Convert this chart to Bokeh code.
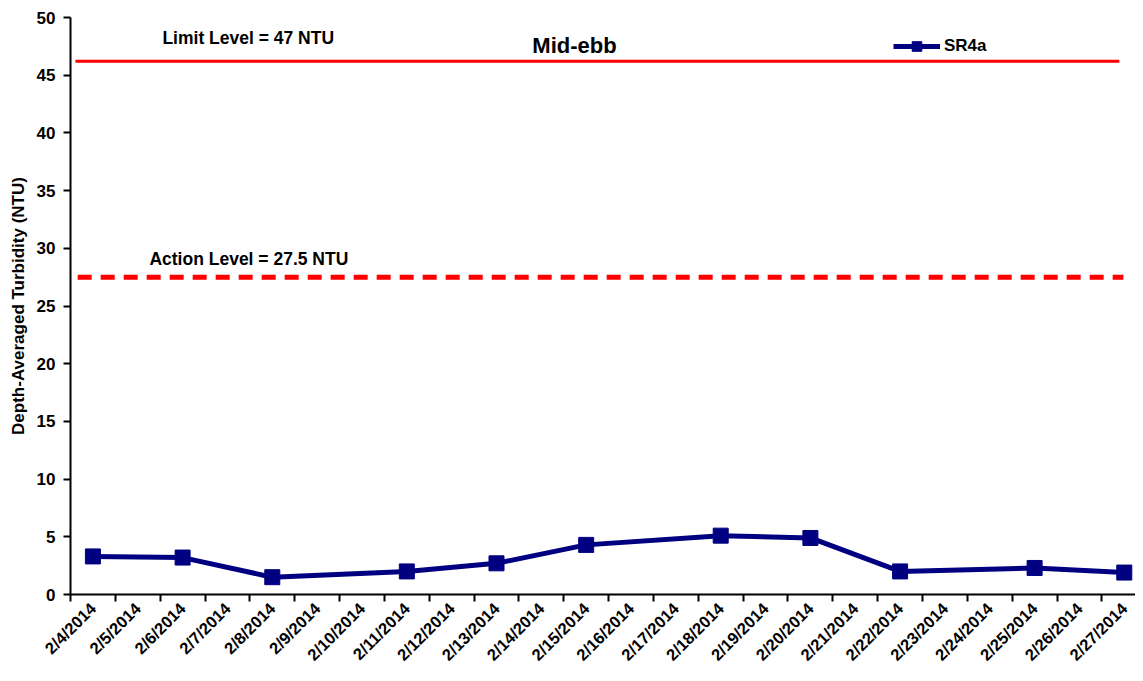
import math
from bokeh.plotting import figure
from bokeh.models import Range1d, FixedTicker, Label, Legend, LegendItem
from bokeh.embed import file_html
from bokeh.resources import INLINE

# ---- data ----
dates = ["2/4/2014", "2/5/2014", "2/6/2014", "2/7/2014", "2/8/2014", "2/9/2014",
         "2/10/2014", "2/11/2014", "2/12/2014", "2/13/2014", "2/14/2014", "2/15/2014",
         "2/16/2014", "2/17/2014", "2/18/2014", "2/19/2014", "2/20/2014", "2/21/2014",
         "2/22/2014", "2/23/2014", "2/24/2014", "2/25/2014", "2/26/2014", "2/27/2014"]
sample_dates = ["2/4/2014", "2/6/2014", "2/8/2014", "2/11/2014", "2/13/2014", "2/15/2014",
                "2/18/2014", "2/20/2014", "2/22/2014", "2/25/2014", "2/27/2014"]
sr4a = [3.3, 3.2, 1.5, 2.0, 2.7, 4.3, 5.1, 4.9, 2.0, 2.3, 1.9]
limit_level = 46.2
action_level = 27.5
limit_text = "Limit Level  = 47 NTU"
action_text = "Action Level  = 27.5 NTU"
title_text = "Mid-ebb"
y_ticks = [0, 5, 10, 15, 20, 25, 30, 35, 40, 45, 50]

FONT = "Liberation Sans"

centers = [i + 0.5 for i in range(len(dates))]
bounds = list(range(len(dates) + 1))
xs = [dates.index(d) + 0.5 for d in sample_dates]

p = figure(width=1135, height=673, output_backend="svg", toolbar_location=None,
           x_range=Range1d(0, 23.75), y_range=Range1d(0, 50),
           min_border_left=70, min_border_right=0, min_border_top=17, min_border_bottom=79)
p.outline_line_color = None
p.xgrid.visible = False
p.ygrid.visible = False
p.background_fill_color = "white"

# level lines
p.segment(x0=[0.11], y0=[limit_level], x1=[23.39], y1=[limit_level],
          line_color="#ff0000", line_width=3)
p.segment(x0=[0.16], y0=[action_level], x1=[23.48], y1=[action_level],
          line_color="#ff0000", line_width=5, line_dash="14 9")

# series
r_line = p.line(xs, sr4a, line_color="#000080", line_width=5)
r_mark = p.scatter(xs, sr4a, marker="square", size=15, fill_color="#000080",
                   line_color="#000080")

legend = Legend(items=[LegendItem(label="SR4a", renderers=[r_line, r_mark])],
                location=(823, 536), glyph_width=47, glyph_height=24,
                label_standoff=4, padding=2, spacing=0, margin=0,
                background_fill_alpha=0, border_line_color=None,
                label_text_font=FONT, label_text_font_style="bold",
                label_text_font_size="17px", label_text_color="black")
p.add_layout(legend, "center")

# annotations
p.add_layout(Label(x=2.05, y=48.2, text=limit_text, text_baseline="middle",
                   text_color="black",
                   text_font=FONT, text_font_style="bold", text_font_size="17.5px"))
p.add_layout(Label(x=1.76, y=29.1, text=action_text, text_baseline="middle",
                   text_color="black",
                   text_font=FONT, text_font_style="bold", text_font_size="17.5px"))
p.add_layout(Label(x=11.24, y=47.6, text=title_text, text_baseline="middle",
                   text_align="center", text_color="black", text_font=FONT,
                   text_font_style="bold", text_font_size="22px"))

# x axis
xa = p.xaxis[0]
xa.ticker = FixedTicker(ticks=centers, minor_ticks=bounds)
xa.major_label_overrides = {c: d for c, d in zip(centers, dates)}
xa.major_label_orientation = math.pi / 4
xa.major_tick_out = 0
xa.major_tick_in = 0
xa.minor_tick_out = 7
xa.minor_tick_in = 0
xa.minor_tick_line_width = 2
xa.minor_tick_line_color = "black"
xa.axis_line_width = 2
xa.axis_line_color = "black"
xa.major_label_text_font = FONT
xa.major_label_text_font_style = "bold"
xa.major_label_text_font_size = "16.5px"
xa.major_label_text_color = "black"
xa.major_label_standoff = 4

# y axis
ya = p.yaxis[0]
ya.ticker = FixedTicker(ticks=y_ticks)
ya.minor_tick_line_color = None
ya.major_tick_out = 7
ya.major_tick_in = 0
ya.major_tick_line_width = 2
ya.major_tick_line_color = "black"
ya.axis_line_width = 2
ya.axis_line_color = "black"
ya.major_label_text_font = FONT
ya.major_label_text_font_style = "bold"
ya.major_label_text_font_size = "17px"
ya.major_label_text_color = "black"
ya.major_label_standoff = 8
ya.axis_label = "Depth-Averaged Turbidity (NTU)"
ya.axis_label_text_font = FONT
ya.axis_label_text_font_style = "bold"
ya.axis_label_text_font_size = "17px"
ya.axis_label_text_color = "black"
ya.axis_label_standoff = 6

open("out.html", "w").write(file_html(p, INLINE))
